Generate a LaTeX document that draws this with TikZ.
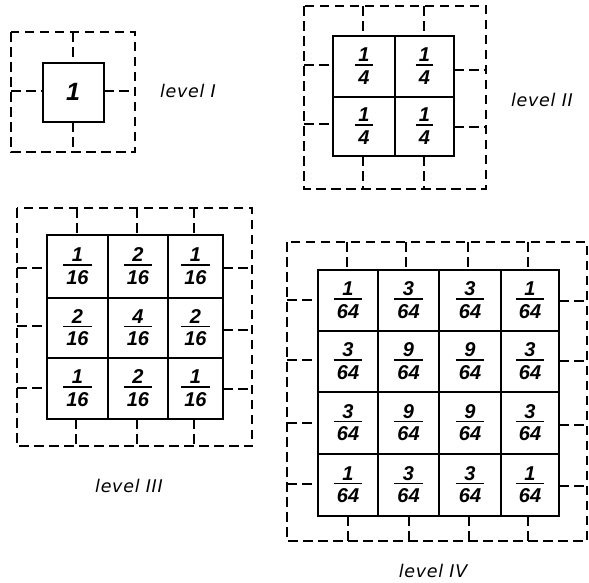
\documentclass[tikz,border=0pt]{standalone}
\usepackage{fontspec}
\newfontfamily\numf{Liberation Sans}
\newfontfamily\lblf{DejaVu Sans}[LetterSpace=4]
\newcommand\frc[5]{%
  \node[dig] (#1n) at (#2,#3-11.5) {#4};
  \node[dig] (#1d) at (#2,#3+11) {#5};
  \coordinate (#1b) at (#2,#3-1.5);
  \draw[bar] (#1d.west |- #1b) -- (#1d.east |- #1b);
}
\begin{document}
\begin{tikzpicture}[x=1pt,y=-1pt,
  solid box/.style={line width=2.3pt},
  dsh/.style={line width=1.6pt,dash pattern=on 9.5pt off 5.5pt},
  dig/.style={inner sep=0pt,font=\numf\bfseries\itshape\fontsize{20}{20}\selectfont},
  bigdig/.style={inner sep=0pt,font=\numf\bfseries\itshape\fontsize{25}{25}\selectfont},
  bar/.style={line width=1.5pt,shorten <=-3pt,shorten >=-3pt},
  lbl/.style={inner sep=0pt,font=\lblf\itshape\fontsize{17.5}{18}\selectfont}]
\useasboundingbox (0,0) rectangle (589,582);
\fill[white] (0,0) rectangle (589,582);

% ---------- level I ----------
\draw[dsh] (11,32) rectangle (135,152);
\draw[dsh] (73,32) -- (73,63) (73,122) -- (73,152)
           (11,91) -- (43,91) (104,91) -- (135,91);
\draw[solid box] (43,63) rectangle (104,122);
\node[bigdig] (one) at (73,92) {1};
\node[lbl] (l1) at (188,91) {level I};

% ---------- level II ----------
\draw[dsh] (304,6) rectangle (486,189);
\draw[dsh] (363,6) -- (363,36) (424,6) -- (424,36)
           (363,156) -- (363,189) (424,156) -- (424,189)
           (304,65) -- (333,65) (304,124) -- (333,124)
           (454,70) -- (486,70) (454,127) -- (486,127);
\draw[solid box] (333,36) rectangle (454,156);
\draw[solid box] (395,36) -- (395,156) (333,97) -- (454,97);
\frc{a11}{364}{66.5}{1}{4}
\frc{a12}{424.5}{66.5}{1}{4}
\frc{a21}{364}{126.5}{1}{4}
\frc{a22}{424.5}{126.5}{1}{4}
\node[lbl] (l2) at (542,100) {level II};

% ---------- level III ----------
\draw[dsh] (17,208) rectangle (252,446);
\draw[dsh] (77,208) -- (77,235) (137,208) -- (137,235) (194,208) -- (194,235)
           (76,419) -- (76,446) (137,419) -- (137,446) (194,419) -- (194,446)
           (17,268) -- (47,268) (17,326) -- (47,326) (17,388) -- (47,388)
           (223,268) -- (252,268) (223,330) -- (252,330) (223,389) -- (252,389);
\draw[solid box] (47,235) rectangle (223,419);
\draw[solid box] (108,235) -- (108,419) (168,235) -- (168,419)
                 (47,298) -- (223,298) (47,358) -- (223,358);
\frc{b11}{77.5}{266.5}{1}{16}
\frc{b12}{138}{266.5}{2}{16}
\frc{b13}{195.5}{266.5}{1}{16}
\frc{b21}{77.5}{328}{2}{16}
\frc{b22}{138}{328}{4}{16}
\frc{b23}{195.5}{328}{2}{16}
\frc{b31}{77.5}{388.5}{1}{16}
\frc{b32}{138}{388.5}{2}{16}
\frc{b33}{195.5}{388.5}{1}{16}
\node[lbl] (l3) at (129,486) {level III};

% ---------- level IV ----------
\draw[dsh] (287,242) rectangle (587,541);
\draw[dsh] (347,242) -- (347,270) (406,242) -- (406,270) (468,242) -- (468,270) (528,242) -- (528,270)
           (348,516) -- (348,541) (409,516) -- (409,541) (469,516) -- (469,541) (528,516) -- (528,541)
           (287,300) -- (318,300) (287,360) -- (318,360) (287,423) -- (318,423) (287,484) -- (318,484)
           (559,301) -- (587,301) (559,361) -- (587,361) (559,425) -- (587,425) (559,486) -- (587,486);
\draw[solid box] (318,270) rectangle (559,516);
\draw[solid box] (378,270) -- (378,516) (439,270) -- (439,516) (501,270) -- (501,516)
                 (318,331) -- (559,331) (318,392) -- (559,392) (318,454) -- (559,454);
\frc{c11}{348}{300.5}{1}{64}
\frc{c12}{408.5}{300.5}{3}{64}
\frc{c13}{470}{300.5}{3}{64}
\frc{c14}{530}{300.5}{1}{64}
\frc{c21}{348}{361.5}{3}{64}
\frc{c22}{408.5}{361.5}{9}{64}
\frc{c23}{470}{361.5}{9}{64}
\frc{c24}{530}{361.5}{3}{64}
\frc{c31}{348}{423}{3}{64}
\frc{c32}{408.5}{423}{9}{64}
\frc{c33}{470}{423}{9}{64}
\frc{c34}{530}{423}{3}{64}
\frc{c41}{348}{485}{1}{64}
\frc{c42}{408.5}{485}{3}{64}
\frc{c43}{470}{485}{3}{64}
\frc{c44}{530}{485}{1}{64}
\node[lbl] (l4) at (433,571) {level IV};
\end{tikzpicture}
\end{document}
